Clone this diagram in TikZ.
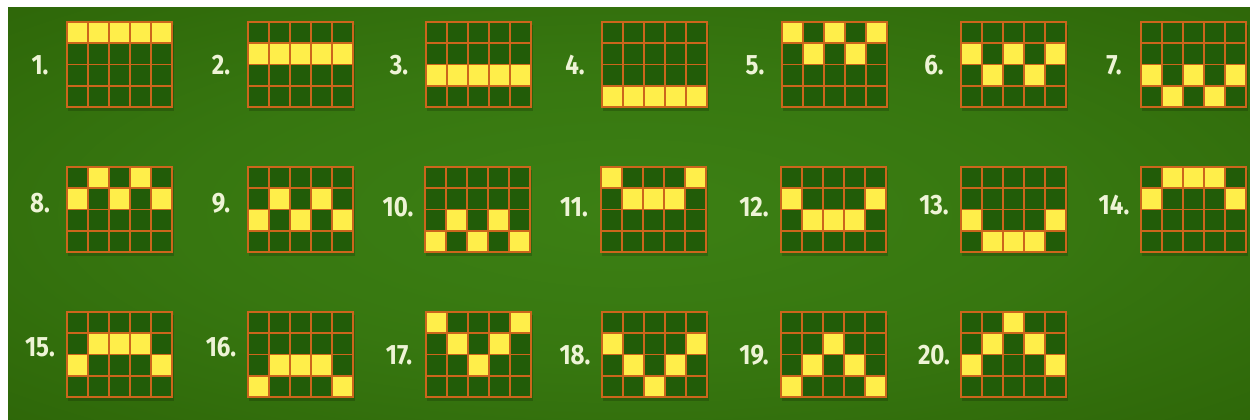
\documentclass[tikz,border=0pt]{standalone}
\usepackage{fontspec}
\usepackage{graphicx}
\setmainfont{Fira Sans}
\definecolor{bgin}{RGB}{60,128,20}
\definecolor{bgout}{RGB}{40,92,4}
\definecolor{cellbg}{RGB}{34,92,8}
\definecolor{gridline}{RGB}{204,102,28}
\definecolor{yel}{RGB}{255,238,74}
\definecolor{lab}{RGB}{238,244,214}
\pgfdeclareradialshading{bgshade}{\pgfpoint{0bp}{0bp}}{color(0bp)=(bgin); color(18bp)=(bgin!75!bgout); color(48bp)=(bgout); color(72bp)=(bgout)}
\tikzset{
  gl/.style={draw=gridline, line width=0.9pt, line cap=rect},
  cellfill/.style={fill=cellbg},
  yelcell/.style={fill=yel},
  gshadow/.style={fill=black, opacity=0.18},
  numlabel/.style={text=lab, font=\bfseries\fontsize{14}{16}\selectfont, anchor=center, inner sep=0pt}
}
\begin{document}
\begin{tikzpicture}[x=0.5pt,y=-0.5pt]
\useasboundingbox (0,0) rectangle (1250,419);
\fill[white] (0,0) rectangle (1250,419);
\shade[shading=bgshade] (8,7) rectangle (1250,419);
\foreach \n/\gx/\gy/\pat/\ly in {
  1/67/22/{0,0,0,0,0}/43, 2/248/22/{1,1,1,1,1}/43, 3/426/22/{2,2,2,2,2}/43, 4/602/22/{3,3,3,3,3}/43,
  5/782/22/{0,1,0,1,0}/43, 6/961/22/{1,2,1,2,1}/43, 7/1141/22/{2,3,2,3,2}/43,
  8/67/167/{1,0,1,0,1}/36, 9/248/167/{2,1,2,1,2}/36, 10/425/167/{3,2,3,2,3}/40, 11/601/167/{0,1,1,1,0}/40,
  12/781/167/{1,2,2,2,1}/40, 13/961/167/{2,3,3,3,2}/38, 14/1141/167/{1,0,0,0,1}/38,
  15/67/312/{2,1,1,1,2}/35, 16/248/312/{3,2,2,2,3}/35, 17/426/312/{0,1,2,1,0}/43, 18/602/312/{1,2,3,2,1}/43,
  19/781/312/{3,2,1,2,3}/43, 20/961/312/{2,1,0,1,2}/43} {
  \coordinate (G\n) at (\gx,\gy);
  \fill[gshadow] (\gx+1,\gy+3) rectangle ++(106,86);
  \fill[cellfill] (G\n) rectangle ++(105,85);
  \foreach \r [count=\c from 0] in \pat {
    \fill[yelcell] (\gx+21*\c,\gy+21.25*\r) rectangle ++(21,21.25);
  }
  \foreach \i in {0,...,5} { \draw[gl] (\gx+21*\i,\gy) -- ++(0,85); }
  \foreach \j in {0,...,4} { \draw[gl] (\gx,\gy+21.25*\j) -- ++(105,0); }
  \node[numlabel] (L\n) at (\gx-27,\gy+\ly) {\scalebox{0.86}[1]{\n.}};
}
\end{tikzpicture}
\end{document}
